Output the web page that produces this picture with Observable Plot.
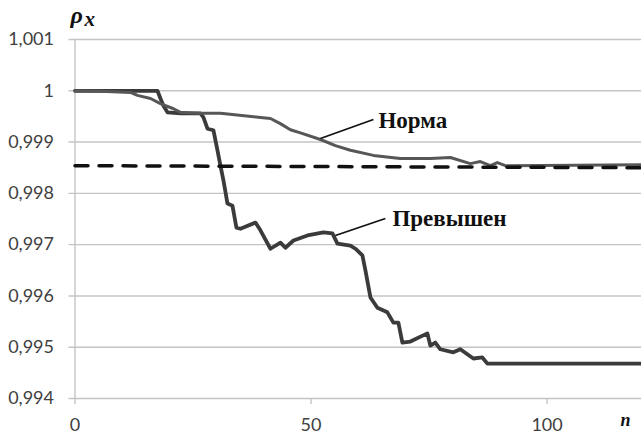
<!DOCTYPE html>
<html><head><meta charset="utf-8">
<script src="https://cdn.jsdelivr.net/npm/d3@7"></script>
<script src="https://cdn.jsdelivr.net/npm/@observablehq/plot@0.6"></script>
<style>
html,body{margin:0;padding:0;background:#fff;}
#chart svg{display:block;}
</style>
</head><body><div id="chart"></div>
<script>
// Series "Норма"
const normaN = [0, 5.4, 11.75, 13.23, 15.99, 18.1, 20.86, 22.35, 25.94, 30.81, 39.28, 41.4, 43.5, 45.63, 47.75, 51.99, 55.16, 58.34, 63.21, 68.92, 75.27, 79.51, 83.74, 85.86, 87.98, 89.46, 91.16, 120];
const normaRho = [1.0, 0.99999, 0.999967, 0.99991, 0.99985, 0.99975, 0.99965, 0.99958, 0.99956, 0.99956, 0.99948, 0.99946, 0.99936, 0.99924, 0.99918, 0.99905, 0.99893, 0.99884, 0.99874, 0.99868, 0.99868, 0.9987, 0.99858, 0.99862, 0.99854, 0.9986, 0.99854, 0.99856];
// Series "Превышен"
const prevN = [0, 17.47, 18.1, 18.74, 19.59, 22.35, 26.58, 27.21, 28.06, 29.33, 30.18, 30.81, 31.45, 32.3, 33.35, 34.2, 35.05, 38.23, 39.28, 41.4, 43.52, 44.57, 46.27, 49.24, 52.62, 54.53, 55.59, 58.34, 59.4, 60.88, 61.52, 62.58, 64.06, 66.17, 67.44, 68.5, 69.35, 71.04, 74.64, 75.27, 76.33, 77.39, 80.14, 81.62, 84.38, 86.29, 87.35, 120];
const prevRho = [1.0, 1.0, 0.99985, 0.99971, 0.99958, 0.99956, 0.99956, 0.99948, 0.99926, 0.99923, 0.99884, 0.99854, 0.99825, 0.9978, 0.99776, 0.99733, 0.99731, 0.99743, 0.99728, 0.99692, 0.99704, 0.99694, 0.99708, 0.99718, 0.99724, 0.99722, 0.99702, 0.99698, 0.99692, 0.99679, 0.9965, 0.99597, 0.99577, 0.99568, 0.99548, 0.99548, 0.99509, 0.99511, 0.99527, 0.99503, 0.99509, 0.99496, 0.9949, 0.99496, 0.99478, 0.9948, 0.99468, 0.99468];
// Threshold (dashed)
const thrN = [0, 120];
const thrRho = [0.99854, 0.9985];
// Ticks
const xTicks = [0, 50, 100];
const xTickLabels = ["0", "50", "100"];
const yTicks = [0.994, 0.995, 0.996, 0.997, 0.998, 0.999, 1.0, 1.001];
const yTickLabels = ["0,994", "0,995", "0,996", "0,997", "0,998", "0,999", "1", "1,001"];
// Annotations (series labels with leader lines)
const labelText = ["Норма", "Превышен"];
const labelN = [64.27, 67.23];
const labelRho = [0.999265, 0.997373];
const leaderN1 = [51.99, 55.16];
const leaderRho1 = [0.99907, 0.997178];
const leaderN2 = [63.21, 65.75];
const leaderRho2 = [0.99944, 0.99751];

const zip = (xs, ys) => xs.map((x, i) => ({x, y: ys[i]}));
const norma = zip(normaN, normaRho);
const prev = zip(prevN, prevRho);
const thr = zip(thrN, thrRho);
const labels = labelText.map((t, i) => ({t, x: labelN[i], y: labelRho[i]}));
const leaders = labelText.map((t, i) => ({x1: leaderN1[i], y1: leaderRho1[i], x2: leaderN2[i], y2: leaderRho2[i]}));

const grid = "#c4c4c4";
const tickFont = "Lato, Open Sans, sans-serif";
const serif = "Liberation Serif, Times New Roman, serif";

const chart = Plot.plot({
  width: 641, height: 437,
  marginLeft: 74.5, marginRight: 0, marginTop: 39, marginBottom: 39,
  style: {background: "#fff"},
  x: {type: "linear", domain: [0, 120]},
  y: {type: "linear", domain: [0.994, 1.001]},
  marks: [
    Plot.ruleY(yTicks, {y: d => d, stroke: grid, strokeWidth: 1.4, insetLeft: -6}),
    Plot.ruleX([0], {x: d => d, stroke: grid, strokeWidth: 1.4}),
    Plot.axisX(xTicks, {tickSize: 6, color: grid, strokeWidth: 1.4, tickFormat: () => "", label: null}),
    Plot.axisY(yTicks, {tickSize: 0, tickPadding: 21, fontSize: 18, fontFamily: tickFont, color: "#404040",
      tickFormat: (d) => yTickLabels[yTicks.findIndex(t => Math.abs(t - d) < 1e-9)], label: null}),
    Plot.axisX(xTicks, {tickSize: 0, tickPadding: 20, fontSize: 18, fontFamily: tickFont, color: "#404040",
      tickFormat: (d) => xTickLabels[xTicks.indexOf(d)], label: null}),
    Plot.line(prev, {x: "x", y: "y", stroke: "#3b3b3b", strokeWidth: 3.8, strokeLinejoin: "round"}),
    Plot.line(norma, {x: "x", y: "y", stroke: "#575757", strokeWidth: 3, strokeLinejoin: "round"}),
    Plot.line(thr, {x: "x", y: "y", stroke: "#111", strokeWidth: 3.5, strokeDasharray: "13,11"}),
    Plot.link(leaders, {x1: "x1", y1: "y1", x2: "x2", y2: "y2", stroke: "#111", strokeWidth: 1.8}),
    Plot.text(labels, {x: "x", y: "y", text: "t", textAnchor: "start", lineAnchor: "bottom", fontSize: 23, fontWeight: "bold", fontFamily: serif, fill: "#111"}),
    Plot.text(["ρ"], {frameAnchor: "top-left", text: d => d, dx: -4.5, dy: -17, textAnchor: "start", lineAnchor: "bottom", fontSize: 24, fontWeight: "bold", fontStyle: "italic", fontFamily: serif, fill: "#111"}),
    Plot.text(["x"], {frameAnchor: "top-left", text: d => d, dx: 9.5, dy: -14, textAnchor: "start", lineAnchor: "bottom", fontSize: 21, fontWeight: "bold", fontStyle: "italic", fontFamily: serif, fill: "#111"}),
    Plot.text(["n"], {frameAnchor: "bottom-right", text: d => d, dx: -16, dy: 27, textAnchor: "middle", lineAnchor: "bottom", fontSize: 18, fontWeight: "bold", fontStyle: "italic", fontFamily: serif, fill: "#111"})
  ]
});
document.getElementById("chart").appendChild(chart);
</script>
</body></html>
